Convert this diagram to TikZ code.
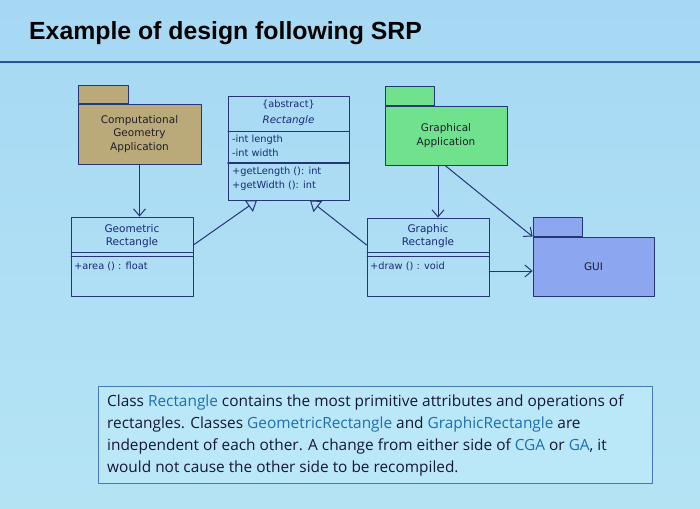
\documentclass[tikz,border=0pt]{standalone}
\usepackage{fontspec}
\setmainfont{Liberation Sans}
\newfontfamily\notefont{Open Sans}
\newfontfamily\umlfont{DejaVu Sans}
\usetikzlibrary{arrows.meta}
\definecolor{bgtop}{RGB}{166,216,244}
\definecolor{bgbot}{RGB}{180,228,244}
\definecolor{linecol}{RGB}{38,52,120}
\definecolor{rulecol}{RGB}{40,80,160}
\definecolor{clstext}{RGB}{28,40,120}
\definecolor{pkgtext}{RGB}{30,30,40}
\definecolor{cgafill}{RGB}{186,170,122}
\definecolor{gafill}{RGB}{112,226,142}
\definecolor{guifill}{RGB}{140,166,240}
\definecolor{boxcol}{RGB}{70,120,190}
\definecolor{boxfill}{RGB}{186,232,248}
\definecolor{notetext}{RGB}{22,24,50}
\definecolor{keyword}{RGB}{30,110,175}
\newcommand{\kw}[1]{\textcolor{keyword}{#1}}

\begin{document}
\begin{tikzpicture}[x=1pt,y=-1pt,line cap=round,line join=round,>={Straight Barb[length=7pt,width=12pt]},
  pkg/.style={draw=linecol,line width=0.8pt,inner sep=0pt,align=center,text=pkgtext,font=\umlfont\fontsize{10.5}{13.5}\selectfont},
  cls/.style={draw=linecol,line width=0.8pt,inner sep=0pt},
  txt/.style={inner sep=0pt,text=clstext,font=\umlfont\fontsize{9.8}{13}\selectfont},
  dep/.style={->,draw=linecol,line width=1pt},
  gen/.style={-{Triangle[open,length=10pt,width=14pt]},draw=linecol,line width=1pt}]
        \shade[top color=bgtop,bottom color=bgbot] (0,0) rectangle (700,508);
        \useasboundingbox (0,0) rectangle (700,508);
        % title
        \node[anchor=base west,inner sep=0pt,text=black,font=\fontsize{24.8}{28}\bfseries] (title) at (29,40) {Example of design following SRP};
        \draw[rulecol,line width=1.5pt] (0,62) -- (700,62);
        % packages
        \node[pkg,fill=cgafill,minimum width=123pt,minimum height=60pt] (cga) at (139.5,134) {Computational\\Geometry\\Application};
        \node[pkg,fill=cgafill,minimum width=50pt,minimum height=18pt,anchor=south west] (cgatab) at (cga.north west) {};
        \node[pkg,fill=gafill,minimum width=122pt,minimum height=59pt] (ga) at (446,135.5) {Graphical\\Application};
        \node[pkg,fill=gafill,minimum width=49pt,minimum height=19pt,anchor=south west] (gatab) at (ga.north west) {};
        \node[pkg,fill=guifill,minimum width=121pt,minimum height=59pt] (gui) at (593.5,266.5) {GUI};
        \node[pkg,fill=guifill,minimum width=49pt,minimum height=19pt,anchor=south west] (guitab) at (gui.north west) {};
        % class Rectangle
        \node[cls,minimum width=121pt,minimum height=104pt] (rect) at (288.5,148) {};
        \draw[linecol,line width=0.8pt] (228,131) -- (349,131);
        \draw[linecol,line width=1.4pt] (228,163) -- (349,163);
        \node[txt] (rabs) at (288.5,105) {\{abstract\}};
        \node[txt,font=\umlfont\fontsize{10.3}{13}\itshape] (rname) at (288.5,121) {Rectangle};
        \node[txt,anchor=west] (rlen) at (232,140) {-int length};
        \node[txt,anchor=west] (rwid) at (232,153) {-int width};
        \node[txt,anchor=west] (rgetl) at (232,172) {+getLength (): int};
        \node[txt,anchor=west] (rgetw) at (232,186) {+getWidth (): int};
        % class GeometricRectangle
        \node[cls,minimum width=122pt,minimum height=79pt] (geo) at (132,256.5) {};
        \draw[linecol,line width=0.8pt] (71,252) -- (193,252);
        \draw[linecol,line width=0.8pt] (71,256) -- (193,256);
        \node[txt,align=center,font=\umlfont\fontsize{10.5}{13.5}\selectfont] (gname) at (132,236) {Geometric\\Rectangle};
        \node[txt,anchor=west] (garea) at (74,266) {+area () : float};
        % class GraphicRectangle
        \node[cls,minimum width=122pt,minimum height=78pt] (gra) at (428,257) {};
        \draw[linecol,line width=0.8pt] (367,252) -- (489,252);
        \draw[linecol,line width=0.8pt] (367,256) -- (489,256);
        \node[txt,align=center,font=\umlfont\fontsize{10.5}{13.5}\selectfont] (grname) at (428,236) {Graphic\\Rectangle};
        \node[txt,anchor=west] (grdraw) at (370,266) {+draw () : void};
        % connectors
        \draw[dep] (cga.south) -- (cga.south |- geo.north);
        \draw[dep] ([xshift=-8pt]ga.south) -- ([xshift=-8pt]ga.south |- gra.north);
        \draw[dep] ([xshift=-1pt]ga.south) -- (gui.north west);
        \draw[dep] ([yshift=-14pt]gra.east) -- ([yshift=-14pt]gra.east -| gui.west);
        \draw[gen] ([yshift=11.5pt]geo.east) -- ([xshift=-31.5pt]rect.south);
        \draw[gen] ([yshift=12pt]gra.west) -- ([xshift=21.5pt]rect.south);
        % note
        \node[draw=boxcol,fill=boxfill,line width=0.8pt,minimum width=554pt,minimum height=97pt,anchor=north west] (note) at (98,386) {};
        \node[anchor=base west,inner sep=0pt,align=left,text=notetext,font=\notefont\fontsize{15.4}{22}\selectfont] (notetxt) at (107,472)
          {Class \kw{Rectangle} contains the most primitive attributes and operations of\\
           rectangles. Classes \kw{GeometricRectangle} and \kw{GraphicRectangle} are\\
           independent of each other. A change from either side of \kw{CGA} or \kw{GA}, it\\
           would not cause the other side to be recompiled.};
      \end{tikzpicture}
\end{document}
